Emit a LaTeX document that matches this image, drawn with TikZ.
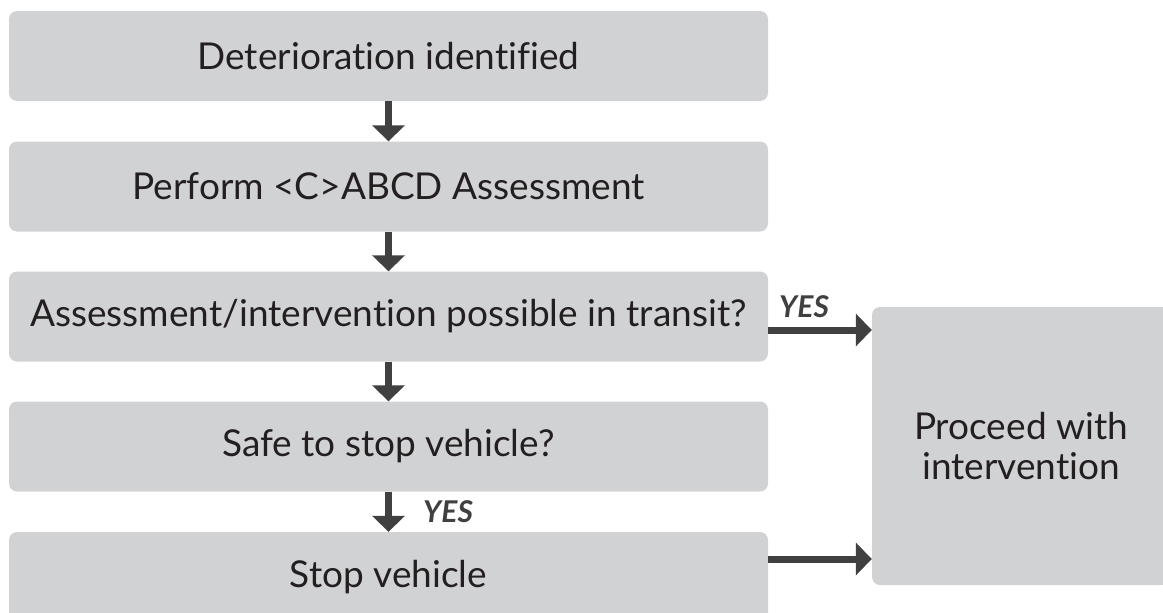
\documentclass[tikz,border=0pt]{standalone}
\usepackage{fontspec}
\setmainfont[Ligatures={NoCommon}]{Lato}
\usetikzlibrary{arrows.meta,calc}
\definecolor{boxgray}{HTML}{D1D2D4}
\definecolor{arrowgray}{HTML}{404041}
\definecolor{txt}{HTML}{231F20}
\tikzset{
  flowbox/.style={fill=boxgray, rounded corners=8pt, inner sep=0pt, text=txt,
    font=\fontsize{37}{40}\selectfont, align=center},
  leftbox/.style={flowbox, minimum width=759pt, minimum height=90pt},
  flowarrow/.style={draw=arrowgray, line width=7pt, -{Triangle[width=32pt,length=16pt]}},
  yeslabel/.style={text=arrowgray, font=\fontsize{30}{34}\selectfont\bfseries\itshape, inner sep=0pt, anchor=base west}
}
\begin{document}
\begin{tikzpicture}
\clip (0,0) rectangle (1163pt,-613pt);
\node[leftbox] (b1) at (388.5pt,-56pt) {Deterioration identified};
\node[leftbox] (b2) at (388.5pt,-186.5pt) {Perform <C>ABCD Assessment};
\node[leftbox] (b3) at (388.5pt,-316.5pt) {Assessment/intervention possible in transit?};
\node[leftbox] (b4) at (388.5pt,-446.5pt) {Safe to stop vehicle?};
\node[leftbox] (b5) at (388.5pt,-577pt) {Stop vehicle};
\node[flowbox, minimum width=298pt, minimum height=278pt] (p) at (1021pt,-446pt) {Proceed with\\intervention};
\draw[flowarrow] (b1.south) -- (b2.north);
\draw[flowarrow] (b2.south) -- (b3.north);
\draw[flowarrow] (b3.south) -- (b4.north);
\draw[flowarrow] (b4.south) -- (b5.north);
\coordinate (y1) at ($(b3.east)+(0,-13.5pt)$);
\coordinate (y2) at ($(b5.east)+(0,18pt)$);
\draw[flowarrow] (y1) -- (y1 -| p.west);
\draw[flowarrow] (y2) -- (y2 -| p.west);
\node[yeslabel] (yes1) at (779pt,-317pt) {YES};
\node[yeslabel] (yes2) at (423pt,-522pt) {YES};
\end{tikzpicture}
\end{document}
